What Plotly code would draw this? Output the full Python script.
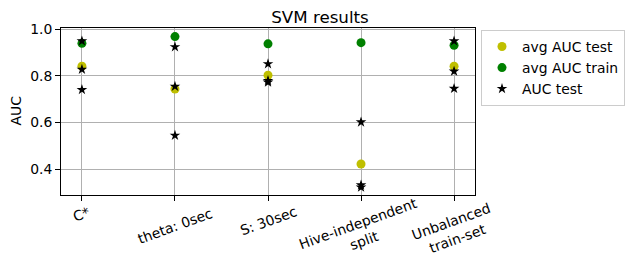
import plotly.graph_objects as go

categories = ["C*", "theta: 0sec", "S: 30sec", "Hive-independent<br>split", "Unbalanced<br>train-set"]
avg_auc_test = [0.842, 0.744, 0.803, 0.422, 0.842]
avg_auc_train = [0.940, 0.969, 0.938, 0.943, 0.932]
auc_test_runs = [
    [0.950, 0.828, 0.741],
    [0.925, 0.755, 0.545],
    [0.852, 0.780, 0.773],
    [0.602, 0.332, 0.322],
    [0.950, 0.820, 0.746],
]
y_ticks = [0.4, 0.6, 0.8, 1.0]

# page body has an 8px margin, so the figure is drawn 8px in from the top-left
OFF = 8
W, H = 635 - OFF, 268 - OFF
L, R, T, B = 61 - OFF, 475 - OFF, 28 - OFF, 195 - OFF
tick_label_centers_px = [c - OFF for c in [214, 226, 221, 232, 230]]
FONT = "DejaVu Sans"
FS = 13.9

idx = list(range(len(categories)))
star_x, star_y = [], []
for i, runs in enumerate(auc_test_runs):
    for v in runs:
        star_x.append(i)
        star_y.append(v)

fig = go.Figure()
fig.add_trace(go.Scatter(x=idx, y=avg_auc_test, mode="markers", name="avg AUC test",
                         marker=dict(color="#bfbf00", size=9, line=dict(width=0))))
fig.add_trace(go.Scatter(x=idx, y=avg_auc_train, mode="markers", name="avg AUC train",
                         marker=dict(color="#008000", size=9, line=dict(width=0))))
fig.add_trace(go.Scatter(x=star_x, y=star_y, mode="markers", name="AUC test",
                         marker=dict(color="black", size=8, symbol="star", line=dict(width=0))))

annotations = []
for i, (lab, cy) in enumerate(zip(categories, tick_label_centers_px)):
    annotations.append(dict(x=i, xref="x", y=(B - cy) / (B - T), yref="paper",
                            text=lab, showarrow=False, textangle=-20, align="center",
                            xanchor="center", yanchor="middle",
                            font=dict(family=FONT, size=FS, color="black")))
annotations.append(dict(x=(15 - OFF - L) / (R - L), xref="paper", y=0.5, yref="paper",
                        text="AUC", showarrow=False, textangle=-90,
                        xanchor="center", yanchor="middle",
                        font=dict(family=FONT, size=FS, color="black")))

fig.update_layout(
    width=W, height=H,
    margin=dict(l=L, r=W - R, t=T, b=H - B, pad=0, autoexpand=False),
    paper_bgcolor="white", plot_bgcolor="white",
    font=dict(family=FONT, size=FS, color="black"),
    title=dict(text="SVM results", x=(320 - OFF) / W, xref="container", xanchor="center",
               y=1 - (17 - OFF) / H, yref="container", yanchor="middle",
               font=dict(family=FONT, size=16.7, color="black")),
    showlegend=True,
    legend=dict(x=(481 - 61) / (R - L), xanchor="left", y=1 - (30 - 28) / (B - T), yanchor="top",
                bgcolor="white", bordercolor="#cccccc", borderwidth=1,
                font=dict(family=FONT, size=FS, color="black"),
                itemsizing="trace", tracegroupgap=0),
    annotations=annotations,
)
fig.update_xaxes(range=[-0.225, 4.225], tickvals=idx, ticktext=[""] * len(idx),
                 showgrid=True, gridcolor="#b0b0b0", gridwidth=1,
                 showline=True, linecolor="black", linewidth=1, mirror=True,
                 ticks="outside", ticklen=5, tickcolor="black", zeroline=False,
                 automargin=False)
fig.update_yaxes(range=[0.289, 1.006], tickvals=y_ticks, ticktext=[f"{v:.1f}" for v in y_ticks],
                 showgrid=True, gridcolor="#b0b0b0", gridwidth=1,
                 showline=True, linecolor="black", linewidth=1, mirror=True,
                 ticks="outside", ticklen=5, tickcolor="black", zeroline=False,
                 tickfont=dict(family=FONT, size=FS, color="black"), automargin=False)

fig.write_html("out.html")
